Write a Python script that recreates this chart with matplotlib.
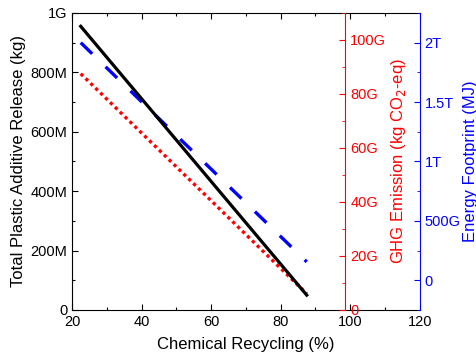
import matplotlib
matplotlib.use("Agg")
import matplotlib.pyplot as plt
from matplotlib.ticker import FuncFormatter, MultipleLocator

plt.rcParams['font.family'] = ['Liberation Sans', 'DejaVu Sans']

recycling = [22.5, 87.5]
additive_release = [0.955e9, 0.05e9]
ghg_emission = [87.5e9, 6.0e9]
energy = [2.0e12, 0.155e12]

def si(v, pos=None):
    if v == 0:
        return "0"
    for p, s in [(1e12, "T"), (1e9, "G"), (1e6, "M")]:
        if abs(v) >= p:
            x = v / p
            return (f"{x:g}") + s
    return f"{v:g}"

fig = plt.figure(figsize=(4.77, 3.6), dpi=100)
ax = fig.add_axes([0.151, 0.139, 0.729, 0.825])
ax.set_xlim(20, 120)
ax.set_ylim(0, 1e9)
ax.xaxis.set_major_locator(MultipleLocator(20))
ax.xaxis.set_minor_locator(MultipleLocator(10))
ax.yaxis.set_major_locator(MultipleLocator(2e8))
ax.yaxis.set_minor_locator(MultipleLocator(1e8))
ax.yaxis.set_major_formatter(FuncFormatter(si))
ax.tick_params(which='both', direction='in', top=True, labelsize=10.5)
ax.tick_params(which='major', length=4.5, width=0.8)
ax.tick_params(which='minor', length=2.5, width=0.8)
ax.tick_params(axis='y', right=False)
ax.set_xlabel("Chemical Recycling (%)", fontsize=12, labelpad=6)
ax.set_ylabel("Total Plastic Additive Release (kg)", fontsize=12, labelpad=3)
ax.spines['right'].set_visible(False)

axr = ax.twinx()
axr.spines['right'].set_position(('axes', 0.786))
for s in ['top', 'left', 'bottom']:
    axr.spines[s].set_visible(False)
axr.spines['right'].set_color('red')
axr.set_ylim(0, 110e9)
axr.yaxis.set_major_locator(MultipleLocator(20e9))
axr.yaxis.set_minor_locator(MultipleLocator(10e9))
axr.yaxis.set_major_formatter(FuncFormatter(si))
axr.tick_params(which='both', direction='in', colors='red', labelsize=10.5)
axr.tick_params(which='major', length=4.5)
axr.tick_params(which='minor', length=2.5)
axr.set_ylabel("GHG Emission (kg CO$_2$-eq)", color='red', fontsize=12, labelpad=2)

axb = ax.twinx()
for s in ['top', 'left', 'bottom']:
    axb.spines[s].set_visible(False)
axb.spines['right'].set_color('blue')
axb.set_ylim(-0.25e12, 2.25e12)
axb.yaxis.set_major_locator(MultipleLocator(0.5e12))
axb.yaxis.set_minor_locator(MultipleLocator(0.25e12))
axb.yaxis.set_major_formatter(FuncFormatter(si))
axb.tick_params(which='both', direction='in', colors='blue', labelsize=10.5)
axb.tick_params(which='major', length=4.5)
axb.tick_params(which='minor', length=2.5)
axb.set_ylabel("Energy Footprint (MJ)", color='blue', fontsize=12, labelpad=2)

axr.plot(recycling, ghg_emission, color='red', lw=2.4, linestyle=(0, (1.0, 1.05)),
         dash_capstyle='butt')
axb.plot(recycling, energy, color='blue', lw=2.4, linestyle=(0, (4.8, 5.6)),
         dash_capstyle='butt')
ax2 = fig.add_axes(ax.get_position(), sharex=ax, frameon=False)
ax2.set_ylim(0, 1e9)
ax2.axis('off')
ax2.plot(recycling, additive_release, color='black', lw=2.3)

fig.savefig("out.png", dpi=100)
